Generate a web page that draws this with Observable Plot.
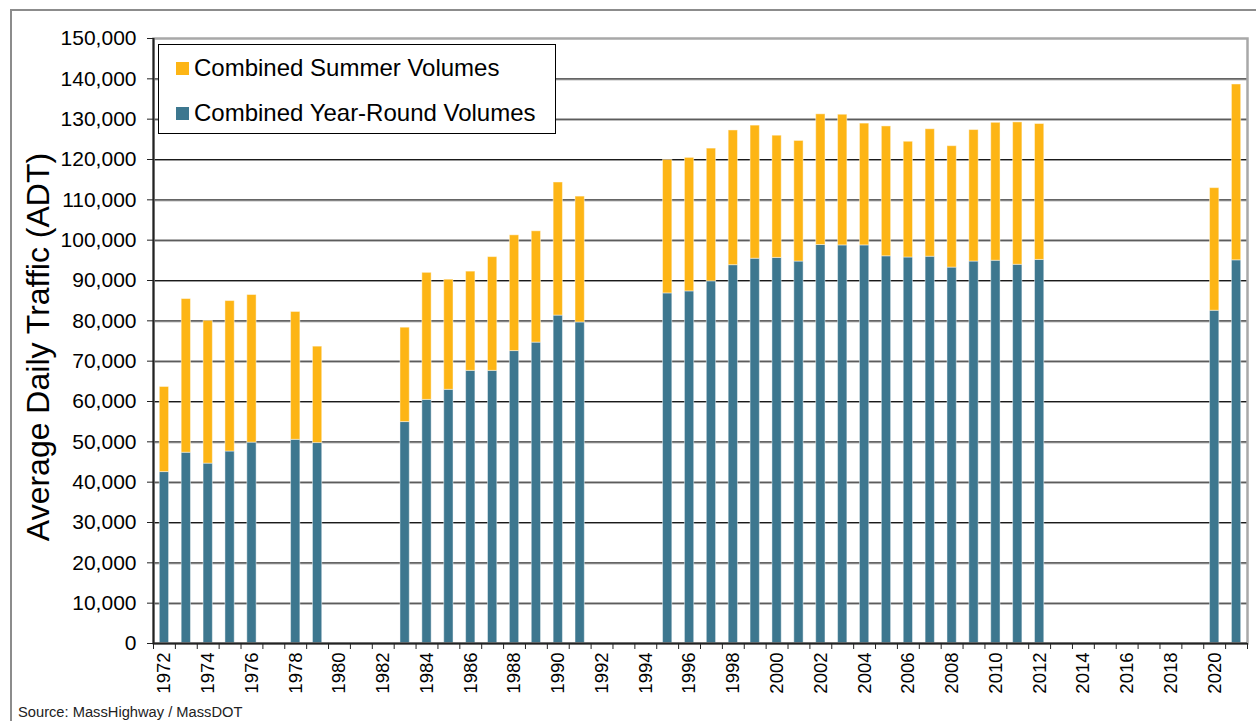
<!DOCTYPE html>
<html>
<head>
<meta charset="utf-8">
<script src="https://cdn.jsdelivr.net/npm/d3@7"></script>
<script src="https://cdn.jsdelivr.net/npm/@observablehq/plot@0.6"></script>
<style>
  body { margin: 0; background: #fff; font-family: "Liberation Sans", Arial, sans-serif; }
  #wrap { position: relative; width: 1256px; height: 721px; overflow: hidden; background: #fff; }
  #frame { position: absolute; left: 10px; top: 9px; width: 1300px; height: 800px;
           border-left: 2px solid #8c8c8c; border-top: 2px solid #8c8c8c; }
  #chart { position: absolute; left: 0; top: 0; }
  #ytitle { position: absolute; left: 38px; top: 347px; transform: translate(-50%, -50%) rotate(-90deg);
            font-size: 32px; white-space: nowrap; color: #000; }
  #legend { position: absolute; left: 158px; top: 44px; width: 396px; height: 88px;
            border: 1px solid #000; background: #fff; }
  .item { position: absolute; left: 17px; font-size: 24px; line-height: 28px; display: flex;
          align-items: center; white-space: nowrap; color: #000; }
  .sw { width: 13px; height: 13px; margin-right: 5px; }
  #source { position: absolute; left: 18px; top: 704px; font-size: 14.7px; color: #222; }
</style>
</head>
<body>
<div id="wrap">
  <div id="frame"></div>
  <div id="chart"></div>
  <div id="ytitle">Average Daily Traffic (ADT)</div>
  <div id="legend">
    <div class="item" style="top:9px"><span class="sw" style="background:#FDB515"></span>Combined Summer Volumes</div>
    <div class="item" style="top:54px"><span class="sw" style="background:#3D778F"></span>Combined Year-Round Volumes</div>
  </div>
  <div id="source">Source: MassHighway / MassDOT</div>
</div>
<script>
const years = [1972,1973,1974,1975,1976,1978,1979,1983,1984,1985,1986,1987,1988,1989,1990,1991,
  1995,1996,1997,1998,1999,2000,2001,2002,2003,2004,2005,2006,2007,2008,2009,2010,2011,2012,2020,2021];
const yearRound = [42500,47300,44600,47600,49800,50500,49700,54900,60400,62900,67600,67600,72500,74600,81300,79600,
  86800,87300,89800,93800,95400,95600,94700,98800,98700,98700,96000,95700,95900,93200,94700,94900,93900,95100,82500,95000];
const combinedTotal = [63600,85400,80000,84900,86400,82200,73600,78300,91900,90200,92200,95800,101200,102200,114300,110800,
  119900,120400,122700,127200,128400,125900,124600,131200,131100,128900,128200,124400,127500,123300,127300,129100,129200,128800,112900,138600];
const yTicks = d3.range(0, 150001, 10000);
const xLabelYears = d3.range(1972, 2022, 2);
const xBoundaries = d3.range(1971.5, 2022, 1);

const table = years.map((y, i) => ({year: y, yearRound: yearRound[i], total: combinedTotal[i]}));

const barOpts = {
  x1: d => d.year - 0.5,
  x2: d => d.year + 0.5,
  insetLeft: 6.3,
  insetRight: 6.3,
  stroke: "#fff",
  strokeOpacity: 0.45,
  strokeWidth: 1
};

const chart = Plot.plot({
  width: 1256,
  height: 705,
  marginLeft: 153,
  marginRight: 9,
  marginTop: 38,
  marginBottom: 62,
  style: {fontFamily: "'Liberation Sans', Arial, sans-serif", color: "#000", background: "transparent", overflow: "visible"},
  x: {type: "linear", domain: [1971.5, 2021.5]},
  y: {domain: [0, 150000]},
  marks: [
    Plot.ruleY(yTicks.slice(1, -1), {stroke: "#9a9a9a", dy: 1}),
    Plot.ruleY(yTicks.slice(1, -1), {stroke: "#1a1a1a"}),
    Plot.rectY(table, {...barOpts, y1: 0, y2: "yearRound", fill: "#3D778F"}),
    Plot.rectY(table, {...barOpts, y1: "yearRound", y2: "total", fill: "#FDB515"}),
    Plot.frame({stroke: "#a8a8a8", strokeWidth: 2.5}),
    Plot.axisY({ticks: yTicks, tickFormat: d3.format(","), tickSize: 6, tickPadding: 11, fontSize: 21, label: null, stroke: "#222"}),
    Plot.ruleX([1971.5], {stroke: "#222", strokeWidth: 2}),
    Plot.ruleY([0], {stroke: "#222", strokeWidth: 2}),
    Plot.axisX({ticks: xBoundaries, tickFormat: () => "", tickSize: 6, label: null, stroke: "#222"}),
    Plot.axisX({ticks: xLabelYears, tickSize: 0, tickPadding: 9, tickRotate: -90, fontSize: 18.5, tickFormat: d => String(d), label: null})
  ]
});
document.getElementById("chart").appendChild(chart);
</script>
</body>
</html>
